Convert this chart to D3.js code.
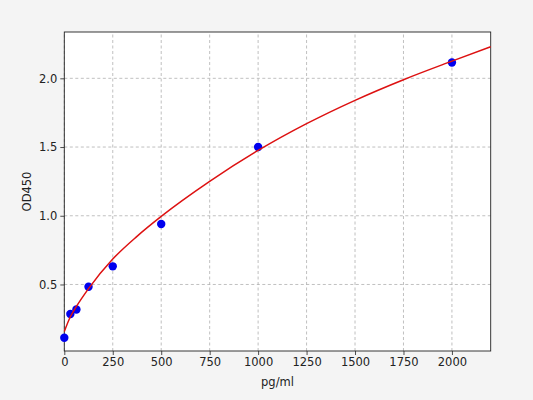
<!DOCTYPE html>
<html>
<head>
<meta charset="utf-8">
<script src="https://cdn.jsdelivr.net/npm/d3@7"></script>
<style>
  body { margin: 0; background: #f4f4f4; }
  svg { display: block; font-family: "DejaVu Sans", sans-serif; }
</style>
</head>
<body>
<svg id="chart"></svg>
<script>
// standard points (concentration, OD)
const conc = [0, 31.25, 62.5, 125, 250, 500, 1000, 2000];
const od = [0.112, 0.285, 0.318, 0.484, 0.632, 0.94, 1.50, 2.115];

// fitted curve
const fitX = [0, 31.25, 62.5, 125, 250, 375, 500, 750, 1000, 1250, 1500, 1750, 2000, 2200];
const fitY = [0.158, 0.265, 0.34, 0.47, 0.685, 0.85, 0.995, 1.25, 1.475, 1.67, 1.84, 1.99, 2.125, 2.23];

const xTicks = [0, 250, 500, 750, 1000, 1250, 1500, 1750, 2000];
const yTicks = [0.5, 1.0, 1.5, 2.0];

const width = 533, height = 400;
const marginTop = 32, marginRight = 42.3, marginBottom = 49, marginLeft = 64.3;

const svg = d3.select("#chart").attr("width", width).attr("height", height);

svg.append("rect").attr("width", width).attr("height", height).attr("fill", "#f4f4f4");

const x = d3.scaleLinear().domain([0, 2200]).range([marginLeft, width - marginRight]);
const y = d3.scaleLinear().domain([0.016, 2.337]).range([height - marginBottom, marginTop]);

svg.append("rect")
  .attr("x", marginLeft).attr("y", marginTop)
  .attr("width", x(2200) - x(0)).attr("height", y(0.016) - y(2.337))
  .attr("fill", "white");

// grid
const grid = svg.append("g")
  .attr("stroke", "#b0b0b0")
  .attr("stroke-width", 0.8)
  .attr("stroke-dasharray", "3,2.5");

grid.selectAll(".gx").data(xTicks).enter().append("line")
  .attr("x1", d => x(d)).attr("x2", d => x(d))
  .attr("y1", y.range()[0]).attr("y2", y.range()[1]);

grid.selectAll(".gy").data(yTicks).enter().append("line")
  .attr("y1", d => y(d)).attr("y2", d => y(d))
  .attr("x1", x.range()[0]).attr("x2", x.range()[1]);

// axes
const xAxis = svg.append("g")
  .attr("transform", `translate(0,${height - marginBottom})`)
  .call(d3.axisBottom(x).tickValues(xTicks).tickFormat(d3.format("d")).tickSizeOuter(0).tickSize(4).tickPadding(3));

const yAxis = svg.append("g")
  .attr("transform", `translate(${marginLeft},0)`)
  .call(d3.axisLeft(y).tickValues(yTicks).tickFormat(d3.format(".1f")).tickSizeOuter(0).tickSize(4).tickPadding(3));

[xAxis, yAxis].forEach(a => {
  a.selectAll("text").attr("font-size", 11.5).attr("fill", "#222").attr("font-family", "DejaVu Sans");
  a.selectAll("line").attr("stroke", "#222").attr("stroke-width", 0.8);
  a.select(".domain").remove();
});

// frame
svg.append("rect")
  .attr("x", marginLeft).attr("y", marginTop)
  .attr("width", x(2200) - x(0)).attr("height", y(0.016) - y(2.337))
  .attr("fill", "none").attr("stroke", "#222").attr("stroke-width", 0.9);

const fit = fitX.map((d, i) => [d, fitY[i]]);
const fitLine = d3.line().x(d => x(d[0])).y(d => y(d[1])).curve(d3.curveMonotoneX);

// points
svg.append("g").selectAll("circle")
  .data(conc.map((d, i) => [d, od[i]]))
  .enter().append("circle")
  .attr("cx", d => x(d[0]))
  .attr("cy", d => y(d[1]))
  .attr("r", 4.2)
  .attr("fill", "#0000ee");

// curve drawn over the points, like the reference
svg.append("path")
  .datum(fit)
  .attr("fill", "none")
  .attr("stroke", "#dd1111")
  .attr("stroke-width", 1.5)
  .attr("d", fitLine);

// labels
svg.append("text")
  .attr("x", (x.range()[0] + x.range()[1]) / 2)
  .attr("y", 386)
  .attr("text-anchor", "middle")
  .attr("font-size", 11.5)
  .attr("fill", "#222")
  .text("pg/ml");

svg.append("text")
  .attr("transform", `translate(31,${(y.range()[0] + y.range()[1]) / 2}) rotate(-90)`)
  .attr("text-anchor", "middle")
  .attr("font-size", 11.5)
  .attr("fill", "#222")
  .text("OD450");
</script>
</body>
</html>
